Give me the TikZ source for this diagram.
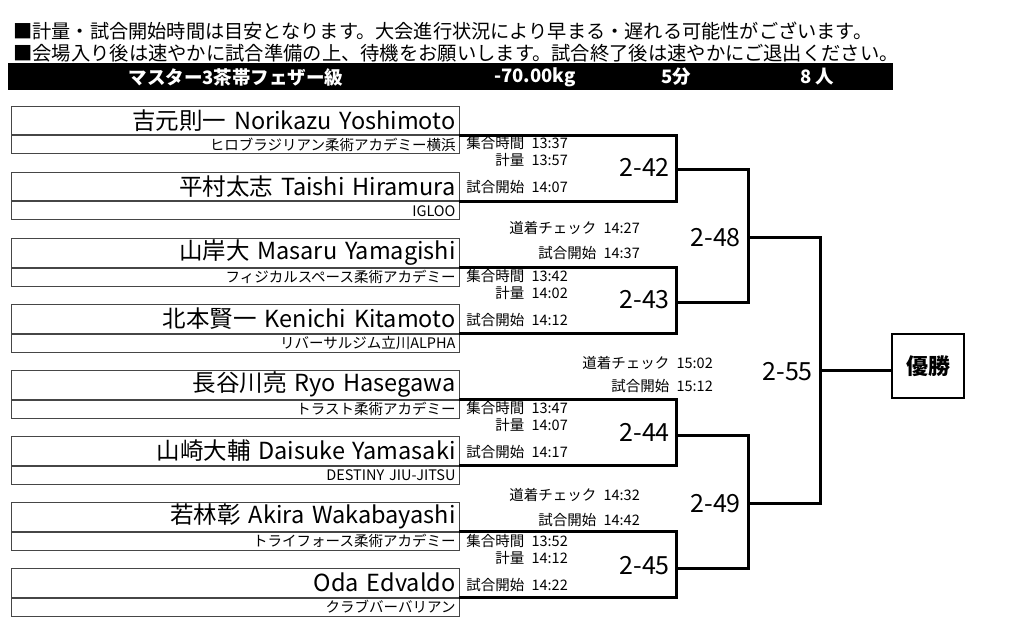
\documentclass[tikz,border=0pt]{standalone}
\usepackage{fontspec}
\setmainfont{Noto Sans CJK JP}
\usetikzlibrary{positioning}
\definecolor{boxgray}{RGB}{70,70,70}
\tikzset{
  namebox/.style={draw=boxgray, line width=1pt, anchor=north west,
                  minimum height=28.5pt, text width=440pt, inner xsep=4pt,
                  inner ysep=0pt, align=right, font=\fontsize{23.5}{25}\selectfont},
  clubbox/.style={draw=boxgray, line width=1pt,
                  minimum height=18pt, text width=440pt, inner xsep=4pt,
                  inner ysep=0pt, align=right, font=\fontsize{14.5}{16}\selectfont},
  bracket/.style={line width=3pt, line cap=rect},
  tm/.style={anchor=east, inner sep=0pt, font=\fontsize{14.5}{16}\selectfont},
  mnum/.style={anchor=east, inner sep=0pt, font=\fontsize{25}{28}\selectfont},
  bartxt/.style={text=white, inner sep=0pt, font=\fontsize{18.5}{20}\selectfont\bfseries},
}

\begin{document}
\begin{tikzpicture}[x=1pt, y=-1pt]
    \useasboundingbox (0,0) rectangle (1024,628);

    % ─── Notes and title bar ───────────────────────────────────────────
    \node[anchor=west, inner sep=0pt, font=\fontsize{19.2}{20}\selectfont]
      (note1) at (13, 31) {■計量・試合開始時間は目安となります。大会進行状況により早まる・遅れる可能性がございます。};
    \node[anchor=west, inner sep=0pt, font=\fontsize{19.3}{20}\selectfont]
      (note2) at (13, 53) {■会場入り後は速やかに試合準備の上、待機をお願いします。試合終了後は速やかにご退出ください。};

    \node[fill=black, anchor=north west, minimum width=885pt, minimum height=27pt, inner sep=0pt]
      (bar) at (8, 63) {};
    \node[bartxt] (cls) at (236, 77) {マスター3茶帯フェザー級};
    \node[bartxt] (wt)  at (535, 77) {-70.00kg};
    \node[bartxt] (dur) at (676, 77) {5分};
    \node[bartxt] (cnt) at (817, 77) {8 人};

    % ─── Players (name row + club row) ─────────────────────────────────
    \foreach \i/\nm/\club in {
        0/{吉元則一 Norikazu Yoshimoto}/{ヒロブラジリアン柔術アカデミー横浜},
        1/{平村太志 Taishi Hiramura}/{IGLOO},
        2/{山岸大 Masaru Yamagishi}/{フィジカルスペース柔術アカデミー},
        3/{北本賢一 Kenichi Kitamoto}/{リバーサルジム立川ALPHA},
        4/{長谷川亮 Ryo Hasegawa}/{トラスト柔術アカデミー},
        5/{山崎大輔 Daisuke Yamasaki}/{DESTINY JIU-JITSU},
        6/{若林彰 Akira Wakabayashi}/{トライフォース柔術アカデミー},
        7/{Oda Edvaldo}/{クラブバーバリアン}}{
      \node[namebox] (n\i) at (11, 106+66*\i) {\nm};
      \node[clubbox, below=0pt of n\i] (c\i) {\club};
    }

    % ─── First round: brackets, times, match numbers ───────────────────
    \foreach \j/\a/\b/\mn/\ta/\tb/\tc in {
        0/0/1/42/13:37/13:57/14:07,
        1/2/3/43/13:42/14:02/14:12,
        2/4/5/44/13:47/14:07/14:17,
        3/6/7/45/13:52/14:12/14:22}{
      \coordinate (m\mn) at (676, 170+132.7*\j);
      \draw[bracket] (n\a.south east) -| (m\mn) |- (n\b.south east);
      \node[tm] (g\mn) at (568, 143+132.7*\j) {集合時間\enskip\ta};
      \node[tm] (w\mn) at (568, 160+132.7*\j) {計量\enskip\tb};
      \node[tm] (s\mn) at (568, 187+132.7*\j) {試合開始\enskip\tc};
      \node[mnum] (l\mn) at (670, 167+132.7*\j) {2-\mn};
    }

    % ─── Semi-finals ───────────────────────────────────────────────────
    \coordinate (m48) at (748, 237);
    \coordinate (m49) at (748, 503);
    \draw[bracket] (m42) -| (m48) |- (m43);
    \draw[bracket] (m44) -| (m49) |- (m45);
    \node[mnum] (l48) at (741, 238) {2-48};
    \node[mnum] (l49) at (741, 504) {2-49};

    \node[tm] (d48) at (640, 228) {道着チェック\enskip 14:27};
    \node[tm] (k48) at (640, 253) {試合開始\enskip 14:37};
    \node[tm] (d49) at (640, 495) {道着チェック\enskip 14:32};
    \node[tm] (k49) at (640, 520) {試合開始\enskip 14:42};

    % ─── Final ─────────────────────────────────────────────────────────
    \coordinate (m55) at (820, 370);
    \draw[bracket] (m48) -| (m55) |- (m49);
    \node[mnum] (l55) at (813, 372) {2-55};
    \node[tm] (d55) at (713, 363) {道着チェック\enskip 15:02};
    \node[tm] (k55) at (713, 386) {試合開始\enskip 15:12};

    \node[draw, line width=2pt, minimum width=72pt, minimum height=64pt,
          font=\fontsize{22}{24}\selectfont\bfseries] (win) at (928, 366) {優勝};
    \draw[bracket] (m55) -- (m55 -| win.west);

  \end{tikzpicture}
\end{document}
